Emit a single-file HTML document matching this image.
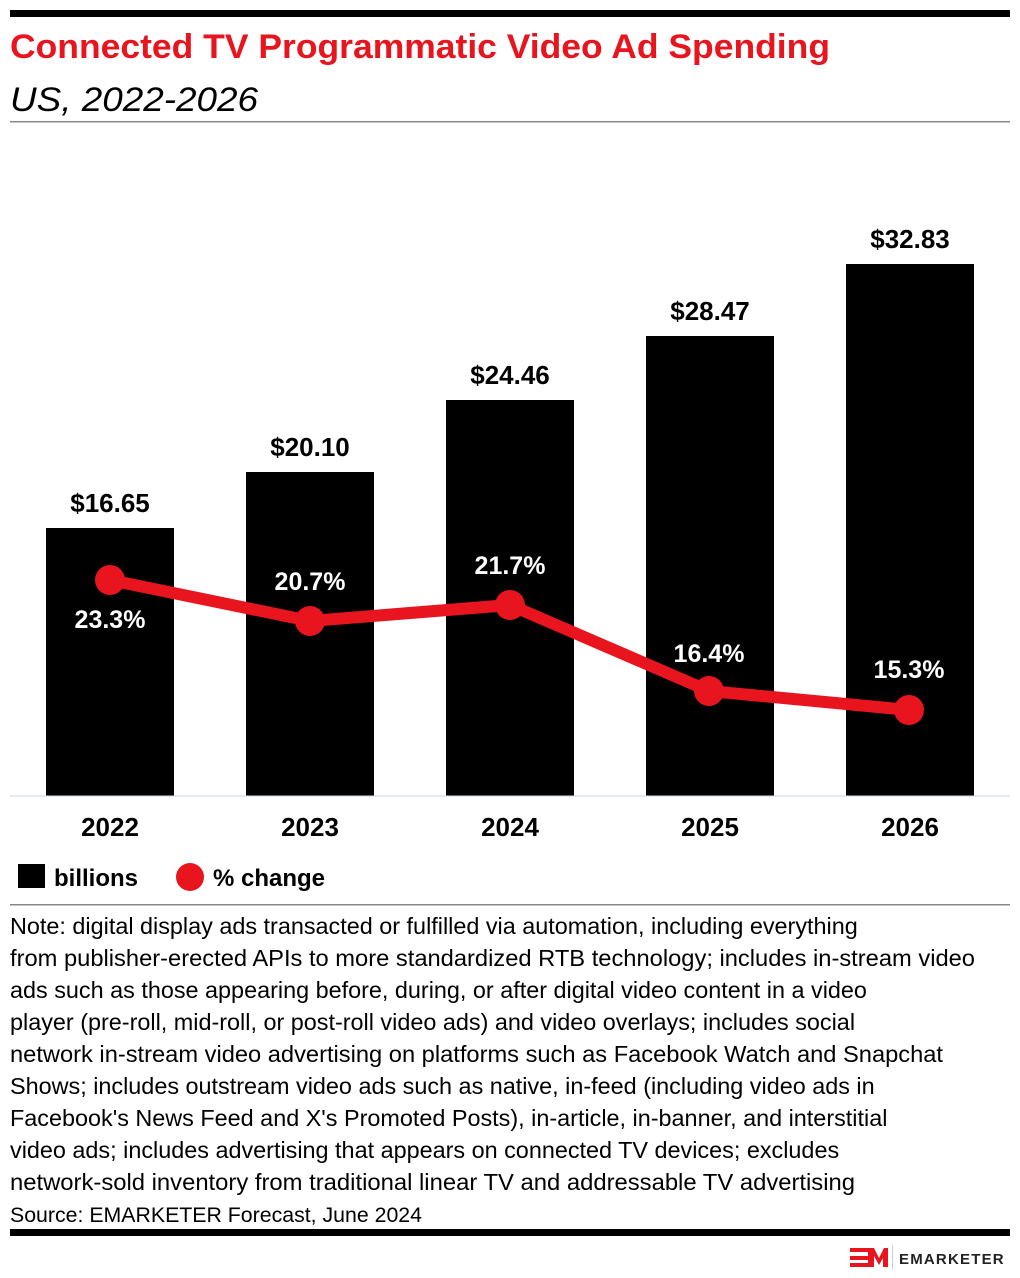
<!DOCTYPE html><html><head><style>body{margin:0;background:#fff}svg{display:block}text{font-family:"Liberation Sans",sans-serif}</style></head><body>
<svg width="1020" height="1278" viewBox="0 0 1020 1278">
<rect x="10" y="10" width="1000" height="7" fill="#000"/>
<text x="10" y="58" font-size="34" font-weight="bold" fill="#e8141e" textLength="820" lengthAdjust="spacingAndGlyphs">Connected TV Programmatic Video Ad Spending</text>
<text x="10" y="111" font-size="34" font-style="italic" fill="#000" textLength="248" lengthAdjust="spacingAndGlyphs">US, 2022-2026</text>
<rect x="10" y="121" width="1000" height="1.5" fill="#888"/>
<g fill="#000">
<rect x="46" y="528" width="128" height="268"/><rect x="246" y="472" width="128" height="324"/><rect x="446" y="400" width="128" height="396"/><rect x="646" y="336" width="128" height="460"/><rect x="846" y="264" width="128" height="532"/></g>
<rect x="10" y="795.5" width="1000" height="1" fill="#c8d4e0"/>
<g font-size="26" font-weight="bold" text-anchor="middle" fill="#000">
<text x="110" y="512">$16.65</text><text x="310" y="456">$20.10</text><text x="510" y="384">$24.46</text><text x="710" y="320">$28.47</text><text x="910" y="248">$32.83</text>
<text x="110" y="836">2022</text><text x="310" y="836">2023</text><text x="510" y="836">2024</text><text x="710" y="836">2025</text><text x="910" y="836">2026</text></g>
<polyline points="110,580 310,621 510,605 709,691 909,710" fill="none" stroke="#e8141e" stroke-width="12" stroke-linejoin="round"/>
<g fill="#e8141e"><circle cx="110" cy="580" r="15"/><circle cx="310" cy="621" r="15"/><circle cx="510" cy="605" r="15"/><circle cx="709" cy="691" r="15"/><circle cx="909" cy="710" r="15"/></g>
<g font-size="25" font-weight="bold" text-anchor="middle" fill="#fff">
<text x="110" y="628">23.3%</text><text x="310" y="590">20.7%</text><text x="510" y="574">21.7%</text><text x="709" y="662">16.4%</text><text x="909" y="678">15.3%</text></g>
<rect x="18" y="864" width="27" height="24" fill="#000"/>
<text x="54" y="886" font-size="24" font-weight="bold">billions</text>
<circle cx="190" cy="877" r="14" fill="#e8141e"/>
<text x="213" y="886" font-size="24" font-weight="bold">% change</text>
<rect x="10" y="904" width="1000" height="1.5" fill="#888"/>
<g font-size="23.4" fill="#000">
<text x="10" y="934">Note: digital display ads transacted or fulfilled via automation, including everything</text>
<text x="10" y="966" textLength="965" lengthAdjust="spacingAndGlyphs">from publisher-erected APIs to more standardized RTB technology; includes in-stream video</text>
<text x="10" y="998">ads such as those appearing before, during, or after digital video content in a video</text>
<text x="10" y="1030">player (pre-roll, mid-roll, or post-roll video ads) and video overlays; includes social</text>
<text x="10" y="1062" textLength="933" lengthAdjust="spacingAndGlyphs">network in-stream video advertising on platforms such as Facebook Watch and Snapchat</text>
<text x="10" y="1094">Shows; includes outstream video ads such as native, in-feed (including video ads in</text>
<text x="10" y="1126">Facebook's News Feed and X's Promoted Posts), in-article, in-banner, and interstitial</text>
<text x="10" y="1158">video ads; includes advertising that appears on connected TV devices; excludes</text>
<text x="10" y="1190" textLength="845" lengthAdjust="spacingAndGlyphs">network-sold inventory from traditional linear TV and addressable TV advertising</text>
<text x="10" y="1222" font-size="21" textLength="412" lengthAdjust="spacingAndGlyphs">Source: EMARKETER Forecast, June 2024</text></g>
<rect x="10" y="1229" width="1000" height="7" fill="#000"/>
<g fill="#e8141e"><rect x="850" y="1248" width="18" height="4"/><rect x="850" y="1256" width="18" height="4"/><rect x="850" y="1263" width="18" height="4"/>
<polygon points="868,1248 874,1248 879,1258 884,1248 888,1248 888,1267 883,1267 883,1258 879,1265 874,1256 874,1267 868,1267"/></g>
<rect x="892" y="1245" width="1" height="24" fill="#ccc"/>
<text x="899" y="1264" font-size="15" font-weight="bold" letter-spacing="1.2" fill="#222">EMARKETER</text>
</svg></body></html>
